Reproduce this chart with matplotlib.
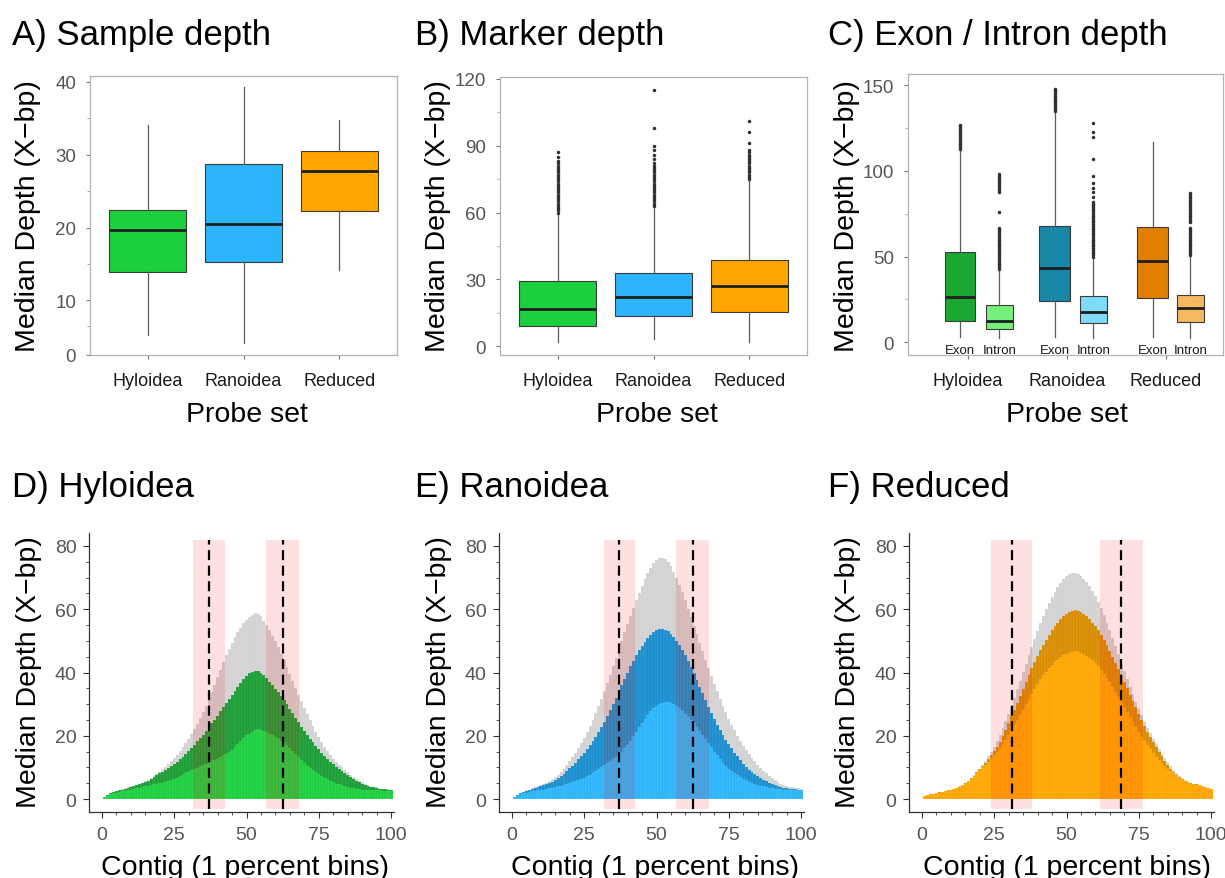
import numpy as np
import matplotlib
matplotlib.use("Agg")
import matplotlib.pyplot as plt
from matplotlib.ticker import FixedLocator

plt.rcParams['font.family'] = ['Liberation Sans', 'DejaVu Sans']

W, H = 1225, 879
probe_sets = ['Hyloidea', 'Ranoidea', 'Reduced']

# ---- A) sample depth box stats: whislo, q1, median, q3, whishi
a_whislo = [5.2, 4.15, 14.1]
a_q1 = [13.9, 15.3, 22.3]
a_med = [19.7, 20.55, 27.8]
a_q3 = [22.4, 28.75, 30.46]
a_whishi = [34.05, 39.3, 34.8]

# ---- B) marker depth
b_whislo = [1.8, 3.3, 2.1]
b_q1 = [9.25, 13.4, 15.2]
b_med = [16.7, 22.1, 27.2]
b_q3 = [29.25, 33.1, 38.8]
b_whishi = [59.3, 62.7, 74.2]
b_fliers = [
    [60, 61, 62, 63, 64, 65, 66, 67, 68, 69, 70, 71, 72, 73, 74, 75, 76, 77,
     78, 79, 80, 81, 82, 83, 85, 87],
    [63, 64, 65, 66, 67, 68, 69, 70, 71, 72, 73, 74, 75, 76, 77, 78, 79, 80,
     81, 82, 84, 86, 88, 90, 98, 115],
    [75, 76, 77, 78, 79, 80, 81, 82, 83, 84, 85, 86, 87, 88, 91, 96, 101],
]

# ---- C) exon / intron depth
c_exon_whislo = [2.9, 2.9, 2.9]
c_exon_q1 = [12.6, 23.9, 25.9]
c_exon_med = [26.3, 43.4, 47.7]
c_exon_q3 = [52.5, 68.1, 67.1]
c_exon_whishi = [112, 134.4, 116.7]
c_exon_fliers = [
    [113, 114, 115, 116, 117, 118, 119, 120, 121, 122, 123, 124, 125, 126, 127],
    [135, 136, 137, 138, 139, 140, 141, 142, 143, 144, 145, 146, 147, 148],
    [],
]
c_intron_whislo = [2.3, 2.3, 2.3]
c_intron_q1 = [7.8, 11.3, 11.7]
c_intron_med = [12.6, 17.9, 19.8]
c_intron_q3 = [21.8, 27.0, 27.8]
c_intron_whishi = [42.8, 50.0, 51.0]
c_intron_fliers = [
    [43, 44, 45, 46, 47, 48, 49, 50, 51, 52, 53, 54, 55, 56, 57, 58, 59, 60,
     61, 62, 63, 64, 65, 66, 67, 76, 88, 89, 90, 91, 92, 93, 94, 95, 96, 97, 98],
    [50, 51, 52, 53, 54, 55, 56, 57, 58, 59, 60, 61, 62, 63, 64, 65, 66, 67,
     68, 69, 70, 71, 72, 73, 74, 75, 76, 77, 78, 79, 80, 81, 82, 85, 88, 90,
     93, 97, 107, 120, 123, 128],
    [51, 52, 53, 54, 55, 56, 57, 58, 59, 60, 61, 62, 63, 64, 65, 66, 67, 70,
     71, 72, 73, 74, 75, 76, 77, 78, 79, 80, 81, 82, 83, 84, 85, 86, 87],
]

# ---- D-F) depth along contig, 1 percent bins
bins = np.arange(1, 101)

hylo_upper = [
    0.8, 1.2, 1.9, 2.2, 2.5, 2.8, 3.1, 3.4, 3.7, 4.0,
    4.2, 4.5, 4.8, 5.2, 5.6, 6.1, 6.8, 7.4, 8.0, 8.7,
    9.4, 10.2, 11.0, 11.9, 12.9, 14.0, 15.1, 16.3, 17.6, 19.0,
    20.5, 22.1, 23.8, 25.6, 27.5, 29.5, 31.6, 33.8, 36.1, 38.5,
    40.9, 43.2, 45.4, 47.4, 49.3, 51.1, 52.7, 54.2, 55.5, 56.6,
    57.6, 58.3, 58.8, 58.6, 57.8, 56.4, 54.9, 53.3, 51.6, 49.9,
    48.0, 46.0, 44.0, 41.8, 39.6, 37.4, 35.2, 33.0, 30.9, 28.8,
    26.8, 24.9, 23.0, 21.3, 19.6, 18.1, 16.6, 15.2, 13.9, 12.7,
    11.8, 10.9, 10.0, 9.2, 8.4, 7.6, 7.0, 6.4, 5.8, 5.3,
    4.9, 4.5, 4.2, 3.9, 3.7, 3.5, 3.3, 3.2, 3.1, 3.0]
hylo_median = [
    0.8, 1.2, 1.9, 2.2, 2.5, 2.8, 3.0, 3.3, 3.6, 3.9,
    4.1, 4.4, 4.7, 5.0, 5.4, 5.8, 6.3, 6.9, 7.5, 8.1,
    8.7, 9.3, 9.9, 10.5, 11.1, 11.8, 12.5, 13.3, 14.2, 15.2,
    16.2, 17.2, 18.2, 19.2, 20.3, 21.5, 22.7, 23.9, 25.1, 26.4,
    27.7, 29.0, 30.3, 31.6, 32.9, 34.2, 35.5, 36.8, 38.0, 39.0,
    39.8, 40.3, 40.6, 40.5, 40.0, 39.2, 38.2, 37.1, 36.0, 34.9,
    33.8, 32.6, 31.3, 29.9, 28.5, 27.1, 25.7, 24.3, 22.9, 21.6,
    20.3, 19.1, 17.9, 16.8, 15.7, 14.7, 13.7, 12.7, 11.8, 11.0,
    10.2, 9.5, 8.8, 8.1, 7.5, 6.9, 6.3, 5.8, 5.3, 4.9,
    4.5, 4.2, 3.9, 3.7, 3.5, 3.3, 3.2, 3.1, 3.0, 2.9]
hylo_lower = [
    0.7, 1.0, 1.5, 1.8, 2.0, 2.2, 2.4, 2.6, 2.8, 3.0,
    3.2, 3.4, 3.6, 3.8, 4.0, 4.2, 4.4, 4.6, 4.8, 5.0,
    5.2, 5.4, 5.7, 6.0, 6.4, 6.8, 7.2, 7.7, 8.2, 8.7,
    9.1, 9.5, 9.9, 10.4, 10.8, 11.2, 11.6, 12.0, 12.4, 12.8,
    13.3, 13.8, 14.3, 14.9, 15.6, 16.4, 17.3, 18.3, 19.3, 20.1,
    20.7, 21.3, 21.8, 22.0, 21.9, 21.6, 21.2, 20.7, 20.2, 19.6,
    19.0, 18.4, 17.8, 17.0, 16.1, 15.2, 14.2, 13.2, 12.2, 11.3,
    10.5, 9.8, 9.1, 8.4, 7.8, 7.2, 6.7, 6.2, 5.7, 5.3,
    4.9, 4.6, 4.3, 4.0, 3.8, 3.6, 3.4, 3.2, 3.1, 3.0,
    2.9, 2.8, 2.8, 2.7, 2.7, 2.7, 2.6, 2.6, 2.6, 2.6]

rano_upper = [
    0.8, 1.3, 1.9, 2.3, 2.7, 3.0, 3.4, 3.8, 4.1, 4.4,
    4.7, 5.1, 5.6, 6.2, 6.9, 7.7, 8.6, 9.6, 10.7, 11.9,
    13.2, 14.6, 16.1, 17.7, 19.4, 21.2, 23.1, 25.1, 27.2, 29.4,
    31.7, 34.1, 36.6, 39.2, 41.9, 44.6, 47.3, 50.0, 52.7, 55.4,
    58.0, 60.5, 62.9, 65.2, 67.4, 69.5, 71.4, 73.1, 74.5, 75.5,
    76.1, 76.2, 75.8, 74.9, 73.6, 71.9, 69.9, 67.7, 65.3, 62.8,
    60.2, 57.5, 54.8, 52.1, 49.4, 46.7, 44.0, 41.4, 38.9, 36.4,
    34.0, 31.7, 29.5, 27.4, 25.4, 23.5, 21.7, 20.0, 18.4, 16.9,
    15.5, 14.2, 13.0, 11.9, 10.9, 9.9, 9.0, 8.2, 7.4, 6.7,
    6.0, 5.4, 4.9, 4.5, 4.2, 3.9, 3.7, 3.5, 3.4, 3.2]
rano_median = [
    0.8, 1.2, 1.8, 2.2, 2.5, 2.8, 3.1, 3.4, 3.7, 4.0,
    4.3, 4.6, 5.0, 5.4, 5.9, 6.5, 7.2, 8.0, 8.8, 9.7,
    10.6, 11.5, 12.5, 13.5, 14.6, 15.8, 17.0, 18.3, 19.7, 21.2,
    22.8, 24.5, 26.3, 28.1, 30.0, 32.0, 34.0, 36.0, 38.0, 40.0,
    41.9, 43.7, 45.4, 47.0, 48.5, 49.8, 51.0, 52.0, 52.8, 53.3,
    53.6, 53.6, 53.4, 53.0, 52.3, 51.3, 50.1, 48.7, 47.1, 45.4,
    43.6, 41.7, 39.7, 37.6, 35.5, 33.4, 31.3, 29.2, 27.2, 25.3,
    23.5, 21.8, 20.2, 18.7, 17.3, 16.0, 14.7, 13.5, 12.3, 11.2,
    10.2, 9.3, 8.5, 7.8, 7.2, 6.6, 6.1, 5.6, 5.2, 4.8,
    4.4, 4.1, 3.8, 3.6, 3.4, 3.3, 3.2, 3.1, 3.0, 3.0]
rano_lower = [
    0.8, 1.1, 1.5, 1.8, 2.0, 2.2, 2.4, 2.6, 2.8, 2.9,
    3.0, 3.2, 3.4, 3.6, 3.8, 4.0, 4.2, 4.5, 4.8, 5.0,
    5.3, 5.6, 5.9, 6.3, 6.7, 7.2, 7.7, 8.3, 8.9, 9.5,
    10.1, 10.7, 11.3, 11.9, 12.6, 13.3, 14.1, 15.0, 16.0, 17.2,
    18.5, 19.9, 21.3, 22.7, 24.1, 25.4, 26.6, 27.7, 28.7, 29.5,
    30.1, 30.5, 30.8, 30.8, 30.5, 30.0, 29.4, 28.7, 27.9, 27.0,
    26.0, 25.0, 23.9, 22.7, 21.5, 20.2, 18.9, 17.6, 16.3, 15.0,
    13.8, 12.6, 11.5, 10.5, 9.6, 8.8, 8.1, 7.5, 6.9, 6.4,
    5.9, 5.5, 5.1, 4.8, 4.5, 4.2, 4.0, 3.8, 3.6, 3.4,
    3.3, 3.2, 3.1, 3.0, 2.9, 2.9, 2.8, 2.8, 2.7, 2.7]

redu_upper = [
    1.0, 1.3, 1.5, 1.7, 1.9, 2.1, 2.3, 2.5, 2.7, 3.0,
    3.3, 3.6, 4.0, 4.5, 5.1, 5.8, 6.6, 7.5, 8.5, 9.6,
    10.8, 12.1, 13.5, 15.0, 16.6, 18.4, 20.3, 22.4, 24.6, 27.0,
    29.5, 32.0, 34.7, 37.4, 40.1, 42.8, 45.5, 48.1, 50.7, 53.2,
    55.6, 57.9, 60.1, 62.1, 63.9, 65.6, 67.1, 68.4, 69.5, 70.4,
    71.1, 71.5, 71.5, 71.2, 70.6, 69.7, 68.6, 67.3, 65.8, 64.1,
    62.3, 60.3, 58.1, 55.8, 53.4, 50.9, 48.3, 45.7, 43.1, 40.5,
    38.0, 35.5, 33.1, 30.8, 28.6, 26.5, 24.5, 22.6, 20.8, 19.1,
    17.4, 15.8, 14.3, 12.9, 11.6, 10.4, 9.3, 8.3, 7.4, 6.7,
    6.1, 5.6, 5.2, 4.9, 4.7, 4.5, 4.2, 3.9, 3.6, 3.3]
redu_median = [
    1.0, 1.3, 1.5, 1.7, 1.9, 2.1, 2.3, 2.5, 2.7, 2.9,
    3.2, 3.5, 3.9, 4.4, 5.0, 5.7, 6.5, 7.4, 8.4, 9.4,
    10.4, 11.5, 12.6, 13.8, 15.1, 16.5, 18.0, 19.8, 21.8, 23.9,
    26.1, 28.3, 30.5, 32.7, 34.9, 37.1, 39.3, 41.4, 43.4, 45.3,
    47.1, 48.8, 50.4, 51.9, 53.3, 54.6, 55.8, 56.9, 57.8, 58.6,
    59.2, 59.6, 59.7, 59.6, 59.2, 58.6, 57.8, 56.9, 55.8, 54.6,
    53.3, 51.9, 50.3, 48.6, 46.8, 44.9, 43.0, 41.0, 39.0, 37.0,
    35.0, 33.0, 31.0, 29.0, 27.0, 25.0, 23.1, 21.3, 19.6, 18.0,
    16.4, 14.9, 13.5, 12.1, 10.8, 9.6, 8.6, 7.7, 6.9, 6.3,
    5.8, 5.4, 5.0, 4.8, 4.6, 4.4, 4.1, 3.8, 3.5, 3.2]
redu_lower = [
    1.0, 1.2, 1.4, 1.6, 1.8, 2.0, 2.2, 2.4, 2.6, 2.8,
    3.1, 3.4, 3.8, 4.3, 4.9, 5.6, 6.4, 7.3, 8.2, 9.1,
    10.0, 10.9, 11.8, 12.8, 13.8, 14.9, 16.1, 17.4, 18.8, 20.3,
    21.8, 23.3, 24.9, 26.5, 28.2, 29.9, 31.6, 33.3, 34.9, 36.4,
    37.8, 39.1, 40.3, 41.4, 42.4, 43.3, 44.1, 44.8, 45.4, 45.9,
    46.3, 46.6, 46.7, 46.6, 46.3, 45.9, 45.3, 44.6, 43.8, 42.9,
    41.9, 40.8, 39.6, 38.3, 36.9, 35.4, 33.9, 32.3, 30.7, 29.1,
    27.5, 25.9, 24.3, 22.7, 21.2, 19.7, 18.3, 17.0, 15.7, 14.5,
    13.4, 12.3, 11.3, 10.4, 9.6, 8.8, 8.1, 7.4, 6.8, 6.2,
    5.7, 5.3, 4.9, 4.7, 4.5, 4.3, 4.0, 3.7, 3.4, 3.1]

# dashed cut-offs and shaded bands (contig percent)
hylo_cuts, hylo_bands = [37, 62.5], [(31.4, 42.4), (56.7, 68.0)]
rano_cuts, rano_bands = [37.1, 62.6], [(31.7, 42.7), (56.7, 68.0)]
redu_cuts, redu_bands = [31.1, 69.0], [(24.0, 38.1), (61.6, 76.6)]

col_main = ['#1ccf3e', '#2bb5fd', '#ffa600']
col_dark = ['#1a9e35', '#1a8ecf', '#d98c00']
col_exon = ['#1aa832', '#1787a8', '#e07f00']
col_intron = ['#77f07a', '#7fdbf8', '#f6b960']

fig = plt.figure(figsize=(W / 100, H / 100), dpi=100)


def rect(l, t, r, b):
    return [l / W, 1 - b / H, (r - l) / W, (b - t) / H]


def stats(lo, q1, med, q3, hi, fl=None):
    out = []
    for i in range(len(med)):
        out.append(dict(whislo=lo[i], q1=q1[i], med=med[i], q3=q3[i], whishi=hi[i],
                        fliers=(fl[i] if fl else [])))
    return out


box_kw = dict(showcaps=False, patch_artist=True,
              boxprops=dict(edgecolor='#3a3a3a', linewidth=0.8),
              medianprops=dict(color='#1e1e1e', linewidth=2.0),
              whiskerprops=dict(color='#5a5a5a', linewidth=0.9),
              flierprops=dict(marker='o', markersize=2.5, markerfacecolor='#303030',
                              markeredgecolor='none'))


def style_box(ax):
    for s in ax.spines.values():
        s.set_color('#b4b4b4')
        s.set_linewidth(0.9)
    ax.tick_params(axis='y', which='major', length=3, width=0.8, color='#777777',
                   labelcolor='#555555', labelsize=13.5, pad=7)
    ax.tick_params(axis='y', which='minor', length=2, width=0.6, color='#999999')
    ax.tick_params(axis='x', length=3, width=0.8, color='#777777',
                   labelcolor='#1a1a1a', labelsize=13, pad=9)


# A
axA = fig.add_axes(rect(90, 77, 397, 356))
bp = axA.bxp(stats(a_whislo, a_q1, a_med, a_q3, a_whishi), positions=[1, 2, 3],
             widths=0.8, **box_kw)
for p, c in zip(bp['boxes'], col_main):
    p.set_facecolor(c)
axA.set_xlim(0.4, 3.6)
axA.set_ylim(2.5, 40.8)
axA.set_yticks([2.5, 10, 20, 30, 40], ['0', '10', '20', '30', '40'])
axA.yaxis.set_minor_locator(FixedLocator([6.5, 15, 25, 35]))
axA.set_xticks([1, 2, 3], probe_sets)
style_box(axA)

# B
axB = fig.add_axes(rect(500, 78, 807, 356))
bp = axB.bxp(stats(b_whislo, b_q1, b_med, b_q3, b_whishi, b_fliers), positions=[1, 2, 3],
             widths=0.8, **box_kw)
for p, c in zip(bp['boxes'], col_main):
    p.set_facecolor(c)
axB.set_xlim(0.4, 3.6)
axB.set_ylim(-3.9, 120.8)
axB.set_yticks([0, 30, 60, 90, 120])
axB.yaxis.set_minor_locator(FixedLocator([15, 45, 75, 105]))
axB.set_xticks([1, 2, 3], probe_sets)
style_box(axB)

# C
exon_pos = [0.92, 1.88, 2.87]
intron_pos = [1.32, 2.27, 3.25]
axC = fig.add_axes(rect(908, 75, 1223, 356))
bp = axC.bxp(stats(c_exon_whislo, c_exon_q1, c_exon_med, c_exon_q3, c_exon_whishi,
                   c_exon_fliers), positions=exon_pos, widths=0.31, **box_kw)
for p, c in zip(bp['boxes'], col_exon):
    p.set_facecolor(c)
bp = axC.bxp(stats(c_intron_whislo, c_intron_q1, c_intron_med, c_intron_q3,
                   c_intron_whishi, c_intron_fliers), positions=intron_pos, widths=0.28,
             **box_kw)
for p, c in zip(bp['boxes'], col_intron):
    p.set_facecolor(c)
for x in exon_pos:
    axC.text(x, -4.3, 'Exon', ha='center', va='center', fontsize=9.5, color='#1a1a1a')
for x in intron_pos:
    axC.text(x, -4.3, 'Intron', ha='center', va='center', fontsize=9.5, color='#1a1a1a')
axC.set_xlim(0.396, 3.58)
axC.set_ylim(-7.4, 156.6)
axC.set_yticks([0, 50, 100, 150])
axC.yaxis.set_minor_locator(FixedLocator([25, 75, 125]))
axC.set_xticks([1, 2, 3], probe_sets)
style_box(axC)


def depth_panel(left, upper, median, lower, cuts, bands, c_dark, c_main):
    ax = fig.add_axes(rect(left, 534, left + 305, 813))
    bar_kw = dict(width=1.0, linewidth=0.3, edgecolor=(1, 1, 1, 0.18))
    ax.bar(bins, upper, color='#d3d3d3', zorder=1, **bar_kw)
    ax.bar(bins, median, color=c_dark, zorder=2, **bar_kw)
    ax.bar(bins, lower, color=c_main, zorder=3, **bar_kw)
    for x0, x1 in bands:
        ax.fill_between([x0, x1], -3, 82, color='red', alpha=0.12, linewidth=0, zorder=4)
    ax.vlines(cuts, -3, 82, colors='black', linestyles=(0, (4.5, 2.5)), linewidth=1.6,
              zorder=5)
    ax.set_xlim(-4.5, 101)
    ax.set_ylim(-4.1, 84.1)
    for s in ['top', 'right']:
        ax.spines[s].set_visible(False)
    for s in ['left', 'bottom']:
        ax.spines[s].set_color('#333333')
        ax.spines[s].set_linewidth(0.9)
    ax.set_xticks([0, 25, 50, 75, 100])
    ax.set_yticks([0, 20, 40, 60, 80])
    ax.xaxis.set_minor_locator(FixedLocator(np.arange(0, 101, 5)))
    ax.yaxis.set_minor_locator(FixedLocator(np.arange(0, 81, 5)))
    ax.tick_params(which='major', length=4, width=0.8, color='#333333',
                   labelcolor='#555555', labelsize=14)
    ax.tick_params(which='minor', length=2, width=0.6, color='#333333')
    ax.tick_params(axis='x', pad=6)
    ax.tick_params(axis='y', pad=5)
    return ax


depth_panel(89, hylo_upper, hylo_median, hylo_lower, hylo_cuts, hylo_bands,
            col_dark[0], col_main[0])
depth_panel(499, rano_upper, rano_median, rano_lower, rano_cuts, rano_bands,
            col_dark[1], col_main[1])
depth_panel(909, redu_upper, redu_median, redu_lower, redu_cuts, redu_bands,
            col_dark[2], col_main[2])

# titles and axis labels
titles = ['A) Sample depth', 'B) Marker depth', 'C) Exon / Intron depth',
          'D) Hyloidea', 'E) Ranoidea', 'F) Reduced']
title_x = [12, 415, 828]
for i, t in enumerate(titles):
    fig.text(title_x[i % 3] / W, 1 - (45 if i < 3 else 497) / H, t, fontsize=25,
             ha='left', va='baseline')

ylab = 'Median Depth (X\u2212bp)'
for x in [28, 438, 847]:
    fig.text(x / W, 1 - 216 / H, ylab, rotation=90, ha='center', va='center',
             fontsize=20.5)
    fig.text(x / W + 1 / W, 1 - 672 / H, ylab, rotation=90, ha='center', va='center',
             fontsize=20.5)
for x in [247, 657, 1067]:
    fig.text(x / W, 1 - 422 / H, 'Probe set', ha='center', va='baseline', fontsize=20.5)
for x in [245, 655, 1067]:
    fig.text(x / W, 1 - 875 / H, 'Contig (1 percent bins)', ha='center', va='baseline',
             fontsize=20.5)

fig.savefig('out.png', dpi=100)
